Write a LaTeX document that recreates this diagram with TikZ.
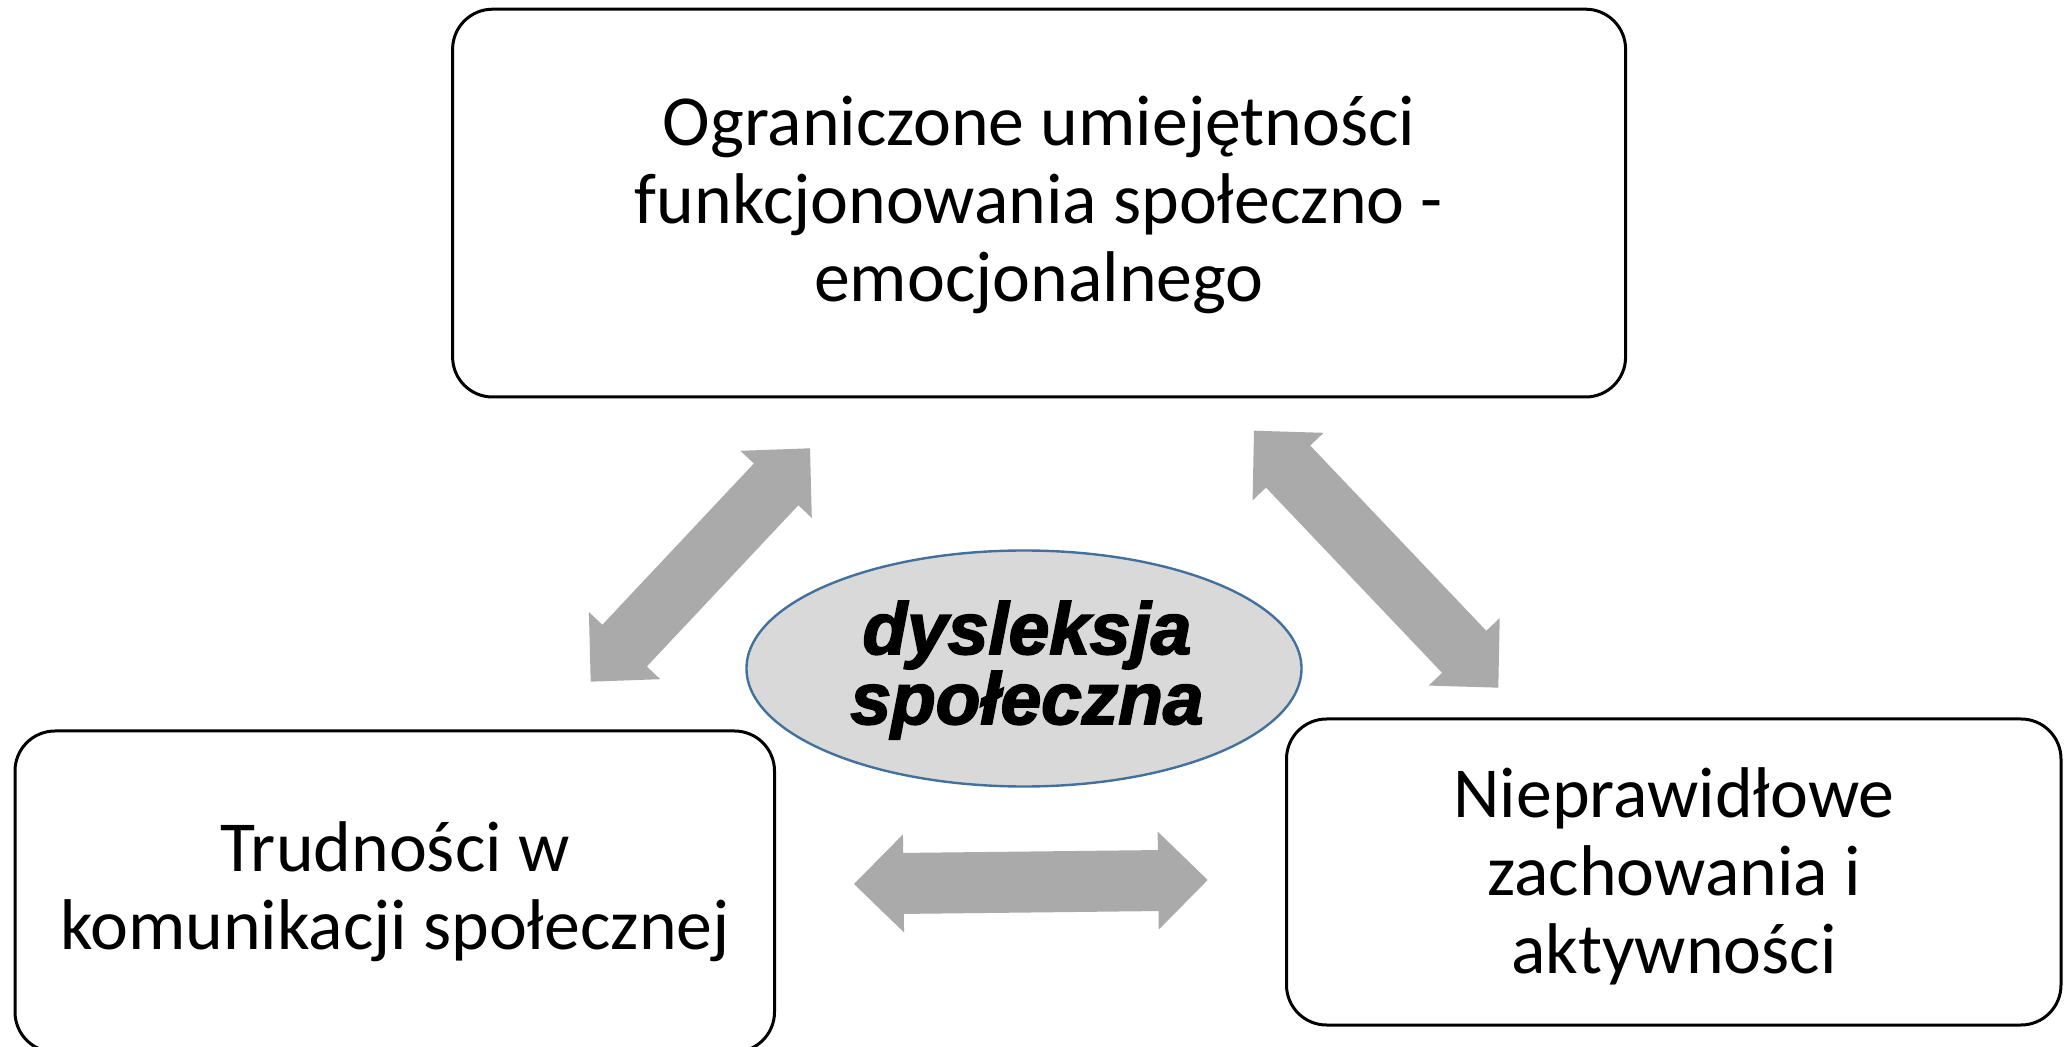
\documentclass[tikz,border=0pt]{standalone}
\usepackage{fontspec}
\setmainfont{Carlito}
\newfontfamily\blk{Liberation Sans}[BoldItalicFeatures={FakeBold=2.5}]
\usetikzlibrary{calc,shapes.geometric}
\definecolor{arrowgray}{RGB}{170,170,170}
\definecolor{ellfill}{RGB}{217,217,217}
\definecolor{ellline}{RGB}{65,113,156}
\newcommand\dblarrow[3]{%
  \coordinate (#3p1) at ($(#1)!24.75pt!(#2)$);
  \coordinate (#3p2) at ($(#2)!24.75pt!(#1)$);
  \fill[arrowgray] (#1) -- ($(#3p1)!24.5pt!90:(#2)$) -- ($(#3p1)!15.25pt!90:(#2)$)
    -- ($(#3p2)!15.25pt!-90:(#1)$) -- ($(#3p2)!24.5pt!-90:(#1)$) -- (#2)
    -- ($(#3p2)!24.5pt!90:(#1)$) -- ($(#3p2)!15.25pt!90:(#1)$)
    -- ($(#3p1)!15.25pt!-90:(#2)$) -- ($(#3p1)!24.5pt!-90:(#2)$) -- cycle;
}
\begin{document}
\begin{tikzpicture}[x=0.5pt,y=-0.5pt,
  box/.style={draw=black,line width=1.5pt,rounded corners=20pt,fill=white,inner sep=0pt,rectangle},
  boxtext/.style={align=center,font=\fontsize{35.9}{39}\selectfont,inner sep=0pt,anchor=base},
  ellbox/.style={ellipse,draw=ellline,line width=1.2pt,fill=ellfill,inner sep=0pt,minimum width=277.5pt,minimum height=118pt},
  elltext/.style={align=center,font=\blk\bfseries\itshape\fontsize{36.5}{33}\selectfont,inner sep=0pt,anchor=base}]
\useasboundingbox (0,0) rectangle (2069,1047);
\clip (0,0) rectangle (2069,1047);
\fill[white] (0,0) rectangle (2069,1047);

% boxes
\node[box,minimum width=586.5pt,minimum height=193.9pt] (top) at (1039.1,203.1) {};
\node[box,minimum width=379.75pt,minimum height=160.5pt] (left) at (394.75,891.5) {};
\node[box,minimum width=387.25pt,minimum height=153pt] (right) at (1673.75,872) {};
\node[ellbox] (ell) at (1024,668.5) {};

% texts (anchor at baseline of last line)
\node[boxtext] (topT) at (1039,302) {Ograniczone umiejętności\\funkcjonowania społeczno -\\emocjonalnego};
\node[boxtext] (leftT) at (395,950) {Trudności w\\komunikacji społecznej};
\node[boxtext] (rightT) at (1674,973) {Nieprawidłowe\\zachowania i\\aktywności};
\node[elltext] (ellT) at (1027,724) {dysleksja\\społeczna};

% arrows
\coordinate (ulA) at (590.7,681.7);
\coordinate (ulB) at (810,448.3);
\coordinate (urA) at (1254,430.7);
\coordinate (urB) at (1498.3,687.7);
\coordinate (btA) at (854,884);
\coordinate (btB) at (1207.7,880);
\dblarrow{ulA}{ulB}{ul}
\dblarrow{urA}{urB}{ur}
\dblarrow{btA}{btB}{bt}
\end{tikzpicture}
\end{document}
